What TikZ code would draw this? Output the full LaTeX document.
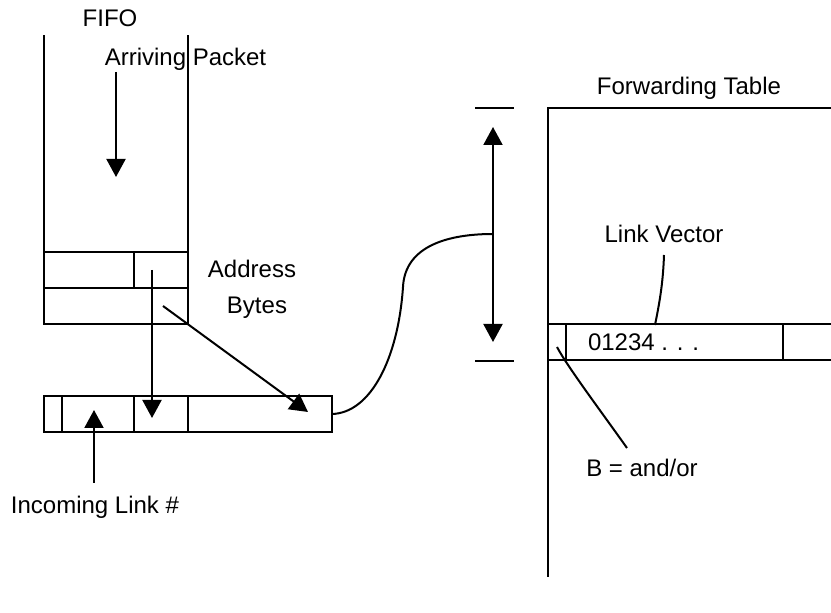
\documentclass[tikz,border=0pt]{standalone}
\usepackage{fontspec}
\setmainfont{Liberation Sans}
\usetikzlibrary{arrows.meta, positioning}

\begin{document}
\begin{tikzpicture}[x=0.5pt, y=-0.5pt, line width=1pt, >={Triangle[length=9pt, width=9.5pt]},
    cell/.style={draw, rectangle, inner sep=0pt, outer sep=0pt, minimum height=18pt},
    lbl/.style={inner sep=0pt, anchor=base, font=\fontsize{12}{14}\selectfont}]

        \useasboundingbox (0,0) rectangle (831,613);

        % Nodes
        \node[lbl] (fifo) at (110,27) {FIFO};
        \node[lbl] (arrpkt) at (185.5,66) {Arriving Packet};
        \node[lbl] (addr) at (252,278) {Address};
        \node[lbl] (bytes) at (257,314) {Bytes};
        \node[lbl] (inlink) at (95,514) {Incoming Link \#};
        \node[lbl] (fwdtab) at (689,95) {Forwarding Table};
        \node[lbl] (linkvec) at (664,243) {Link Vector};
        \node[lbl] (bandor) at (642,477) {B = and/or};

        % FIFO header cells
        \node[cell, minimum width=45pt] (hdra) at (89,270) {};
        \node[cell, minimum width=27pt, right=0pt of hdra] (hdrb) {};
        \node[cell, minimum width=72pt, below right=0pt of hdra.south west] (hdrc) {};

        % header register
        \node[cell, minimum width=9pt] (rega) at (53,414) {};
        \node[cell, minimum width=36pt, right=0pt of rega] (regb) {};
        \node[cell, minimum width=27pt, right=0pt of regb] (regc) {};
        \node[cell, minimum width=72pt, right=0pt of regc] (regd) {};

        % forwarding table row
        \node[cell, minimum width=9pt] (bcell) at (557,342.5) {};
        \node[cell, minimum width=108.5pt, right=0pt of bcell] (veccell) {};
        \node[cell, minimum width=40pt, right=0pt of veccell] (restcell) {};
        \node[lbl, anchor=base west] (bits) at (587,351) {01234 . . .};

        % Coordinates
        \coordinate (pkttop) at (116,72);
        \coordinate (pktend) at (116,177);
        \coordinate (addrsrc) at (152,270);
        \coordinate (addrdst) at (152,418);
        \coordinate (copysrc) at (163,306);
        \coordinate (copydst) at (308,412);
        \coordinate (linktip) at (94,410);
        \coordinate (spantop) at (493,127);
        \coordinate (spanbot) at (493,342);
        \coordinate (spanmid) at (493,234);
        \coordinate (vecpt) at (655,325);
        \coordinate (bpt) at (557,347);
        \coordinate (bandtop) at (627,448);

        % Frames
        \draw (44,252) -- (44,35);
        \draw (188,252) -- (188,35);
        \draw (831,108) -| (548,577);
        \draw (475,108) -- (514,108);
        \draw (475,361) -- (514,361);

        % Arrows
        \draw[->] (pkttop) -- (pktend);
        \draw[->] (addrsrc) -- (addrdst);
        \draw[->] (copysrc) -- (copydst);
        \draw[->] (94,483) -- (linktip);
        \draw[<->] (spantop) -- (spanbot);
        \draw (regd.east) .. controls (370,413) and (398,360) .. (403,287)
              .. controls (405,245) and (450,234) .. (spanmid);
        \draw (664,255) .. controls (663,285) and (659,305) .. (vecpt);
        \draw (bpt) .. controls (567,366) and (600,410) .. (bandtop);

\end{tikzpicture}
\end{document}
